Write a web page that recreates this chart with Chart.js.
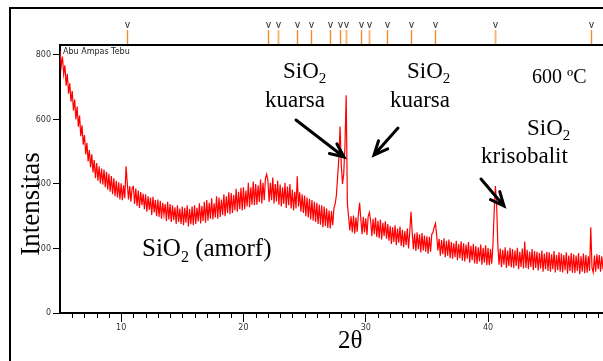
<!DOCTYPE html>
<html>
<head>
<meta charset="utf-8">
<script src="https://cdn.jsdelivr.net/npm/chart.js@4.4.1/dist/chart.umd.min.js"></script>
<style>
html, body { margin: 0; padding: 0; background: #fff; }
canvas { display: block; }
</style>
</head>
<body>
<canvas id="xrdChart" width="603" height="361"></canvas>
<script>
// XRD pattern, 2-theta grid from 5.0 in 0.1 steps
const startAngle = 5.0;
const angleStep = 0.1;
const intensity = [
  812, 765, 795, 740, 768, 705, 742, 680, 712, 655,
  688, 628, 662, 600, 640, 578, 612, 548, 582, 522,
  552, 492, 528, 470, 505, 452, 492, 436, 474, 418,
  465, 410, 455, 402, 448, 398, 445, 390, 438, 382,
  432, 376, 425, 368, 418, 362, 410, 358, 405, 352,
  402, 350, 396, 356, 455, 402, 352, 394, 345, 388,
  392, 338, 386, 332, 380, 326, 375, 334, 370, 322,
  368, 314, 362, 320, 358, 304, 360, 312, 350, 300,
  352, 298, 348, 292, 342, 304, 338, 285, 345, 290,
  338, 282, 334, 288, 328, 276, 334, 282, 324, 276,
  330, 272, 326, 280, 334, 268, 322, 275, 330, 272,
  334, 276, 326, 284, 340, 278, 332, 285, 345, 280,
  350, 286, 342, 292, 356, 290, 340, 296, 362, 292,
  358, 298, 352, 304, 368, 300, 362, 310, 374, 306,
  372, 310, 366, 318, 385, 314, 376, 322, 388, 318,
  390, 322, 380, 330, 404, 328, 390, 336, 408, 334,
  400, 336, 396, 344, 414, 340, 404, 350, 418, 430,
  410, 344, 404, 350, 420, 340, 400, 346, 410, 336,
  398, 330, 390, 338, 404, 326, 392, 334, 400, 324,
  382, 318, 376, 324, 424, 330, 374, 314, 368, 310,
  364, 300, 358, 296, 354, 290, 350, 286, 345, 282,
  342, 276, 336, 274, 334, 266, 330, 270, 324, 264,
  318, 262, 316, 272, 325, 338, 365, 422, 480, 578,
  458, 400, 432, 518, 675, 338, 298, 256, 300, 250,
  302, 246, 296, 252, 306, 342, 290, 244, 298, 250,
  294, 242, 300, 312, 286, 238, 292, 244, 296, 236,
  286, 232, 290, 228, 280, 238, 284, 230, 276, 224,
  270, 214, 266, 220, 272, 210, 262, 218, 268, 208,
  258, 204, 254, 210, 262, 200, 252, 314, 248, 198,
  246, 192, 250, 198, 244, 188, 248, 194, 240, 190,
  238, 184, 236, 190, 244, 250, 266, 278, 242, 194,
  230, 178, 226, 182, 232, 173, 224, 178, 228, 170,
  220, 168, 216, 173, 224, 164, 214, 170, 222, 162,
  216, 160, 212, 168, 220, 156, 208, 164, 214, 154,
  208, 152, 204, 160, 212, 150, 202, 156, 210, 148,
  202, 148, 198, 153, 210, 312, 394, 338, 212, 150,
  200, 142, 196, 150, 204, 140, 194, 146, 202, 142,
  198, 140, 194, 146, 202, 136, 190, 143, 200, 138,
  222, 140, 196, 136, 190, 143, 198, 133, 192, 140,
  190, 132, 186, 138, 194, 128, 184, 136, 190, 130,
  188, 128, 182, 136, 192, 126, 180, 133, 188, 128,
  184, 126, 180, 133, 188, 122, 178, 130, 186, 125,
  182, 124, 178, 130, 186, 120, 176, 128, 184, 123,
  180, 125, 176, 130, 266, 140, 126, 178, 128, 182,
  136, 180, 128, 176, 136
];
const twoTheta = intensity.map((_, i) => +(startAngle + i * angleStep).toFixed(1));

const xTickLabels = [10, 20, 30, 40];
const yTickLabels = [0, 200, 400, 600, 800];

// reference pattern sticks shown in the top strip
const refPeaks = [10.5, 22.0, 22.8, 24.4, 25.5, 27.1, 27.9, 28.4, 29.6, 30.3, 31.7, 33.7, 35.7, 40.6, 48.4];
const refPale  = [false, false, true, false, false, false, false, true, false, true, false, false, false, true, false];

const serif = '"Liberation Serif", "Times New Roman", serif';

function drawSiO2(ctx, x, y, size, tail) {
  ctx.font = size + 'px ' + serif;
  ctx.fillText('SiO', x, y);
  let w = ctx.measureText('SiO').width;
  ctx.font = Math.round(size * 0.65) + 'px ' + serif;
  ctx.fillText('2', x + w, y + size * 0.22);
  if (tail) {
    let w2 = ctx.measureText('2').width;
    ctx.font = size + 'px ' + serif;
    ctx.fillText(tail, x + w + w2, y);
  }
}

function arrow(ctx, x1, y1, x2, y2) {
  const a = Math.atan2(y2 - y1, x2 - x1);
  const head = 15, spread = 0.42;
  ctx.beginPath();
  ctx.moveTo(x1, y1);
  ctx.lineTo(x2, y2);
  ctx.moveTo(x2 - head * Math.cos(a - spread), y2 - head * Math.sin(a - spread));
  ctx.lineTo(x2, y2);
  ctx.lineTo(x2 - head * Math.cos(a + spread), y2 - head * Math.sin(a + spread));
  ctx.stroke();
}

const decor = {
  id: 'decor',
  afterDraw(chart) {
    const ctx = chart.ctx;
    const area = chart.chartArea;
    const xs = chart.scales.x;
    ctx.save();

    // outer frame and top of plot
    ctx.strokeStyle = '#000';
    ctx.lineWidth = 2;
    ctx.beginPath();
    ctx.moveTo(10, chart.height);
    ctx.lineTo(10, 8);
    ctx.lineTo(chart.width, 8);
    ctx.moveTo(area.left - 1, area.top);
    ctx.lineTo(area.right, area.top);
    ctx.stroke();

    // minor ticks every degree
    ctx.lineWidth = 1;
    ctx.beginPath();
    for (let v = 6; v <= 49; v++) {
      if (v % 10 === 0) continue;
      const px = Math.round(xs.getPixelForValue(v)) + 0.5;
      ctx.moveTo(px, area.bottom);
      ctx.lineTo(px, area.bottom + 5);
    }
    ctx.stroke();

    // reference sticks
    refPeaks.forEach((v, i) => {
      const px = Math.round(xs.getPixelForValue(v)) + 0.5;
      ctx.strokeStyle = refPale[i] ? '#f8b878' : '#f28a2e';
      ctx.lineWidth = refPale[i] ? 2 : 1.4;
      ctx.beginPath();
      ctx.moveTo(px, 30);
      ctx.lineTo(px, area.top - 1);
      ctx.stroke();
      ctx.strokeStyle = '#333';
      ctx.lineWidth = 1;
      ctx.beginPath();
      ctx.moveTo(px - 2, 22);
      ctx.lineTo(px, 28);
      ctx.lineTo(px + 2, 22);
      ctx.stroke();
    });

    // sample name
    ctx.fillStyle = '#222';
    ctx.font = '8px "DejaVu Sans"';
    ctx.textAlign = 'left';
    ctx.textBaseline = 'alphabetic';
    ctx.fillText('Abu Ampas Tebu', 63, 54);

    // annotations
    ctx.fillStyle = '#000';
    drawSiO2(ctx, 283, 78, 23);
    ctx.font = '23px ' + serif;
    ctx.fillText('kuarsa', 265, 107);
    drawSiO2(ctx, 407, 78, 23);
    ctx.font = '23px ' + serif;
    ctx.fillText('kuarsa', 390, 107);
    ctx.font = '20px ' + serif;
    ctx.fillText('600 \u00baC', 532, 83);
    drawSiO2(ctx, 527, 135, 23);
    ctx.font = '23px ' + serif;
    ctx.fillText('krisobalit', 481, 163);
    drawSiO2(ctx, 142, 256, 25, ' (amorf)');

    ctx.strokeStyle = '#000';
    ctx.lineWidth = 3;
    ctx.lineCap = 'round';
    arrow(ctx, 296, 120, 344, 157);
    arrow(ctx, 398, 128, 374, 155);
    arrow(ctx, 481, 179, 504, 206);

    // axis titles
    ctx.font = '25px ' + serif;
    ctx.fillText('2\u03b8', 338, 348);
    ctx.translate(39, 204);
    ctx.rotate(-Math.PI / 2);
    ctx.textAlign = 'center';
    ctx.font = '27px ' + serif;
    ctx.fillText('Intensitas', 0, 0);
    ctx.restore();
  }
};

const tickFont = { family: 'DejaVu Sans', size: 8 };

new Chart(document.getElementById('xrdChart'), {
  type: 'line',
  data: {
    datasets: [{
      data: twoTheta.map((x, i) => ({ x: x, y: intensity[i] })),
      borderColor: '#ff0000',
      borderWidth: 1.2,
      pointRadius: 0,
      tension: 0
    }]
  },
  options: {
    responsive: false,
    animation: false,
    layout: { padding: { top: 45, left: 0, right: 0, bottom: 0 } },
    plugins: { legend: { display: false }, tooltip: { enabled: false } },
    scales: {
      x: {
        type: 'linear',
        min: 5,
        max: 49.4,
        afterBuildTicks: s => { s.ticks = xTickLabels.map(v => ({ value: v })); },
        afterFit: s => { s.height = 48; },
        grid: { drawOnChartArea: false, tickLength: 9, tickColor: '#000', tickWidth: 1 },
        border: { color: '#000', width: 2 },
        ticks: { font: tickFont, color: '#333', padding: 1, maxRotation: 0, autoSkip: false }
      },
      y: {
        min: 0,
        max: 831,
        afterBuildTicks: s => { s.ticks = yTickLabels.map(v => ({ value: v })); },
        afterFit: s => { s.width = 60; },
        grid: { drawOnChartArea: false, tickLength: 7, tickColor: '#000', tickWidth: 1 },
        border: { color: '#000', width: 2 },
        ticks: { font: tickFont, color: '#333', padding: 2 }
      }
    }
  },
  plugins: [decor]
});
</script>
</body>
</html>
